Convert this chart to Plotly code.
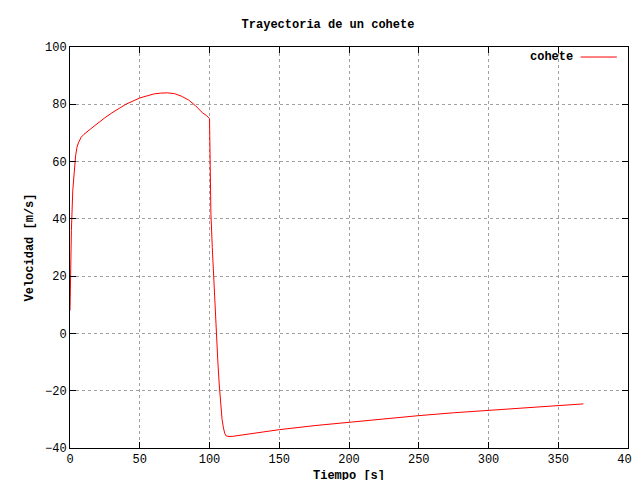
import plotly.graph_objects as go

tiempo = [0, 0.5, 1, 2, 3, 4, 5, 6, 8, 10, 15, 20, 25, 30, 40, 50, 55, 60, 65, 70, 75, 80, 85, 90, 95, 98, 100,
          100.3, 101, 102, 103, 104, 105, 106, 107, 108, 109, 110, 111, 112, 114, 117, 120, 130, 150, 175,
          200, 225, 250, 275, 300, 325, 350, 368]
velocidad = [8, 25, 36, 50, 58, 62, 65, 66.5, 68.5, 69.5, 71.5, 73.5, 75.3, 77, 80, 82.2, 83, 83.6, 83.9, 84, 83.7, 82.8, 81.5, 79.5, 77, 76, 75,
             55, 42, 30, 19, 9, 0, -10, -18, -25, -30, -33, -35, -35.8, -36, -35.9, -35.7, -35, -33.6, -32.2,
             -31, -29.8, -28.7, -27.7, -26.8, -26, -25.2, -24.6]

font = dict(family="Liberation Mono, DejaVu Sans Mono, monospace", size=12, color="black")

fig = go.Figure(go.Scatter(x=tiempo, y=velocidad, mode="lines", name="cohete",
                           line=dict(color="red", width=1), showlegend=False))

axis = dict(showline=True, linecolor="black", linewidth=1, mirror="ticks", ticks="inside",
            ticklen=6, tickcolor="black", showgrid=True, gridcolor="#a0a0a0", griddash="dot",
            gridwidth=1, zeroline=False, tickfont=font, automargin=False)

fig.update_layout(
    width=640, height=480, plot_bgcolor="white", paper_bgcolor="white", font=font,
    margin=dict(l=62, r=20, t=39, b=40),
    title=dict(text="<b>Trayectoria de un cohete</b>", x=0.5, xanchor="center", y=0.975, font=font),
    xaxis=dict(axis, range=[0, 400], dtick=50,
               title=dict(text="<b>Tiempo [s]</b>", standoff=4, font=font)),
    yaxis=dict(axis, range=[-40, 100], dtick=20,
               title=dict(text="<b>Velocidad [m/s]</b>", standoff=8, font=font)),
)
# gnuplot-style key: label first, then line sample
fig.add_annotation(xref="paper", yref="paper", x=0.905, y=0.975, xanchor="right", yanchor="middle",
                   text="<b>cohete</b>", showarrow=False, font=font)
fig.add_shape(type="line", xref="paper", yref="paper", x0=0.915, x1=0.98, y0=0.975, y1=0.975,
              line=dict(color="red", width=1))
fig.write_html("out.html")
